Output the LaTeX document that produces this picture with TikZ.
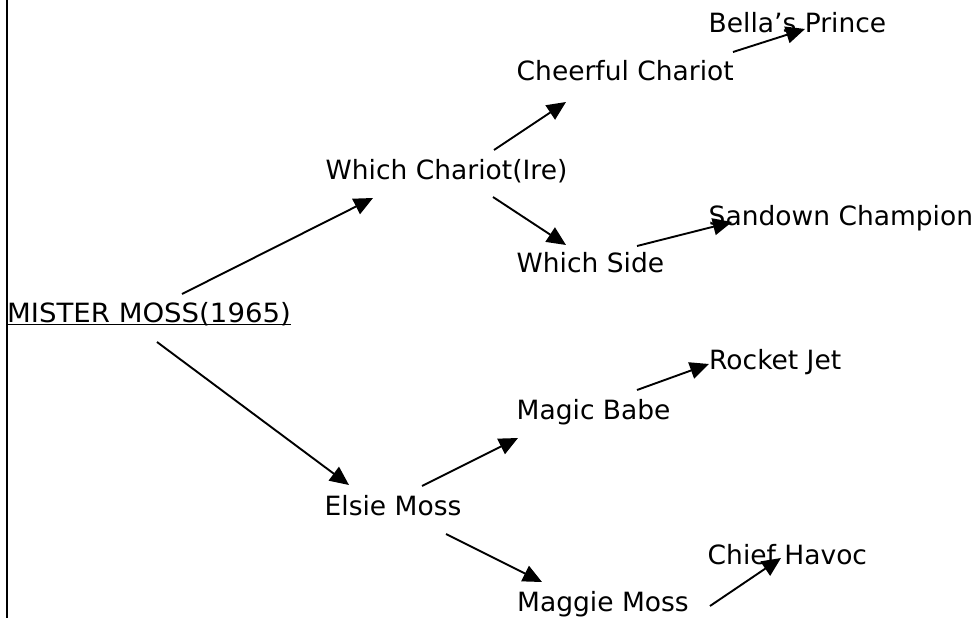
\documentclass[tikz,border=0pt]{standalone}
\usepackage{fontspec}
\setmainfont{DejaVu Sans}
\newfontfamily\widefont[FakeStretch=1.04]{DejaVu Sans}
\usetikzlibrary{arrows.meta}
\begin{document}
\begin{tikzpicture}[x=1pt,y=-1pt,
  lbl/.style={anchor=base west,inner sep=0pt,font=\fontsize{26.5}{30}\selectfont},
  conn/.style={line width=1.9pt,-{Triangle[length=19pt,width=17pt]}}]
\useasboundingbox (0,0) rectangle (977,618);
\fill[white] (0,0) rectangle (977,618);
% left rule
\coordinate (rt) at (6.7,0);
\coordinate (rb) at (6.7,618);
\draw[line width=1.8pt] (rt) -- (rb);
% labels
\node[lbl,font=\widefont\fontsize{26.5}{30}\selectfont] (mm) at (7,322.5) {MISTER MOSS(1965)};
\node[lbl] (wc) at (325.5,179.5) {Which Chariot(Ire)};
\node[lbl] (cc) at (516.5,81) {Cheerful Chariot};
\node[lbl] (bp) at (708.5,32.3) {Bella’s Prince};
\node[lbl] (ws) at (516.5,272.5) {Which Side};
\node[lbl] (sc) at (708.5,225.7) {Sandown Champion};
\node[lbl] (es) at (324.5,515.7) {Elsie Moss};
\node[lbl] (mb) at (516.5,419.5) {Magic Babe};
\node[lbl] (rj) at (709,369.3) {Rocket Jet};
\node[lbl] (mg) at (517,611.7) {Maggie Moss};
\node[lbl] (ch) at (707.5,564) {Chief Havoc};
% underline
\draw[line width=1.4pt] ([yshift=-1.8pt]mm.base west) -- ([yshift=-1.8pt]mm.base east);
% arrow end points
\coordinate (a1s) at (182,294);  \coordinate (a1e) at (373,198);
\coordinate (a2s) at (157,342);  \coordinate (a2e) at (349,485);
\coordinate (a3s) at (494,150);  \coordinate (a3e) at (566,102);
\coordinate (a4s) at (493,197);  \coordinate (a4e) at (566,245);
\coordinate (a5s) at (733,52);   \coordinate (a5e) at (805,29);
\coordinate (a6s) at (637,246);  \coordinate (a6e) at (732,222);
\coordinate (a7s) at (422,486);  \coordinate (a7e) at (518,438);
\coordinate (a8s) at (446,534);  \coordinate (a8e) at (542,582);
\coordinate (a9s) at (637,390);  \coordinate (a9e) at (709,364);
\coordinate (a10s) at (710,606); \coordinate (a10e) at (781,558);
\draw[conn] (a1s) -- (a1e);
\draw[conn] (a2s) -- (a2e);
\draw[conn] (a3s) -- (a3e);
\draw[conn] (a4s) -- (a4e);
\draw[conn] (a5s) -- (a5e);
\draw[conn] (a6s) -- (a6e);
\draw[conn] (a7s) -- (a7e);
\draw[conn] (a8s) -- (a8e);
\draw[conn] (a9s) -- (a9e);
\draw[conn] (a10s) -- (a10e);
\end{tikzpicture}
\end{document}
